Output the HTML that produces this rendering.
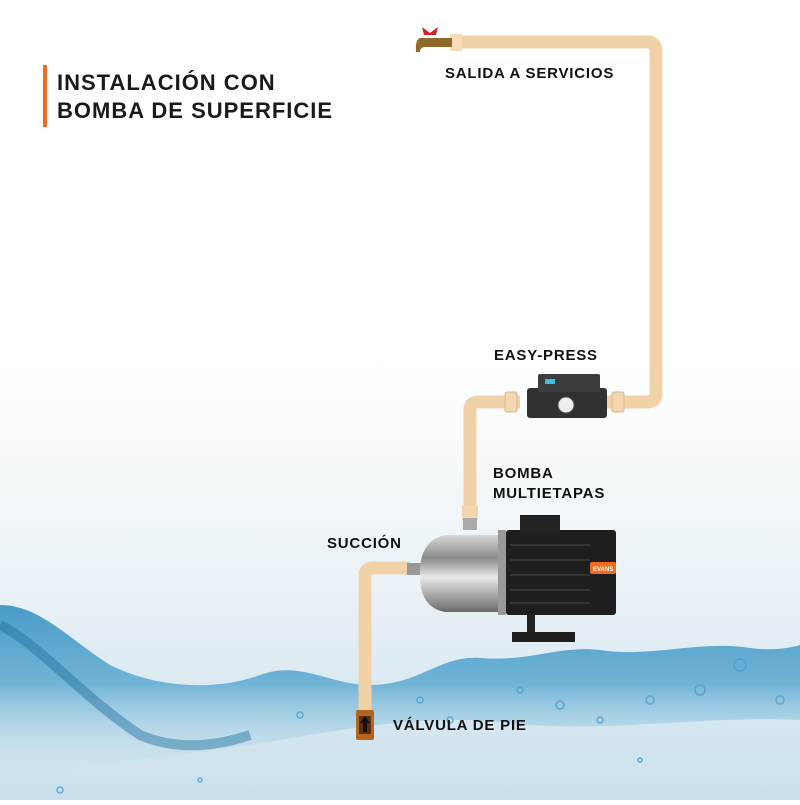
<!DOCTYPE html>
<html><head><meta charset="utf-8"><style>
html,body{margin:0;padding:0;}
body{width:800px;height:800px;overflow:hidden;font-family:"Liberation Sans",sans-serif;}
</style></head><body>
<svg width="800" height="800" viewBox="0 0 800 800" xmlns="http://www.w3.org/2000/svg">
<defs>
<linearGradient id="bg" x1="0" y1="0" x2="0" y2="1">
<stop offset="0" stop-color="#ffffff"/><stop offset="0.45" stop-color="#ffffff"/>
<stop offset="0.75" stop-color="#e8f1f6"/><stop offset="1" stop-color="#c9e0ec"/></linearGradient>
<linearGradient id="water" x1="0" y1="0" x2="0" y2="1">
<stop offset="0" stop-color="#2e8dc0"/><stop offset="0.45" stop-color="#5eaad2"/><stop offset="1" stop-color="#cfe5f0" stop-opacity="0"/></linearGradient>
<linearGradient id="steel" x1="0" y1="0" x2="0" y2="1">
<stop offset="0" stop-color="#d8d8d8"/><stop offset="0.3" stop-color="#8a8a8a"/><stop offset="0.55" stop-color="#e8e8e8"/><stop offset="1" stop-color="#6a6a6a"/></linearGradient>
</defs>
<rect width="800" height="800" fill="url(#bg)"/>
<!-- water -->
<path d="M0 605 C40 605 70 640 110 665 C160 690 220 690 260 675 C300 660 330 685 370 685 C420 685 440 655 480 658 C530 662 560 645 600 650 C650 658 700 640 750 648 C780 652 800 645 800 645 L800 720 C700 715 600 735 500 722 C400 712 300 740 200 752 C120 762 60 768 0 780 Z" fill="url(#water)" opacity="0.85"/>
<path d="M0 625 C40 645 80 695 140 735 C180 752 220 745 250 735" stroke="#1d6e9e" stroke-width="10" fill="none" opacity="0.45"/>
<g fill="none" stroke="#4a9fcb" stroke-width="1.5" opacity="0.8">
<circle cx="560" cy="705" r="4"/><circle cx="600" cy="720" r="3"/><circle cx="650" cy="700" r="4"/><circle cx="700" cy="690" r="5"/><circle cx="740" cy="665" r="6"/><circle cx="420" cy="700" r="3"/><circle cx="450" cy="720" r="3"/><circle cx="300" cy="715" r="3"/><circle cx="200" cy="780" r="2"/><circle cx="520" cy="690" r="3"/><circle cx="780" cy="700" r="4"/><circle cx="640" cy="760" r="2"/><circle cx="60" cy="790" r="3"/>
</g>
<!-- title -->
<rect x="43" y="65" width="4" height="62" fill="#ef6c21"/>
<text x="57" y="90" font-size="22" font-weight="bold" fill="#1a1a1a" letter-spacing="1">INSTALACIÓN CON</text>
<text x="57" y="118" font-size="22" font-weight="bold" fill="#1a1a1a" letter-spacing="1">BOMBA DE SUPERFICIE</text>
<!-- labels -->
<g font-size="15" font-weight="bold" fill="#111" letter-spacing="0.8">
<text x="445" y="78">SALIDA A SERVICIOS</text>
<text x="494" y="360">EASY-PRESS</text>
<text x="493" y="478">BOMBA</text>
<text x="493" y="498">MULTIETAPAS</text>
<text x="327" y="548">SUCCIÓN</text>
<text x="393" y="730">VÁLVULA DE PIE</text>
</g>
<!-- pipes -->
<g stroke="#f1d2a8" stroke-width="13" fill="none" stroke-linejoin="round">
<path d="M455 42 H648 Q656 42 656 52 V394 Q656 402 646 402 H605"/>
<path d="M520 402 H478 Q470 402 470 410 V520"/>
<path d="M410 568 H373 Q365 568 365 576 V712"/>
</g>
<rect x="450" y="34" width="12" height="17" fill="#f6dcb8"/>
<rect x="612" y="392" width="12" height="20" rx="2" fill="#f3d6ae" stroke="#d9b88c"/>
<rect x="505" y="392" width="12" height="20" rx="2" fill="#f3d6ae" stroke="#d9b88c"/>
<rect x="462" y="505" width="16" height="15" fill="#f3d6ae"/>
<!-- faucet -->
<path d="M420 38 H452 V47 H425 Q420 47 420 52 L416 52 Q415 40 420 38Z" fill="#8d6a2a"/>
<path d="M422 27 L430 33 L438 27 L436 35 L424 35Z" fill="#d0202a"/>
<!-- easy press -->
<rect x="527" y="388" width="80" height="30" rx="3" fill="#2f3133"/>
<rect x="538" y="374" width="62" height="18" rx="2" fill="#3a3c3e"/>
<rect x="545" y="379" width="10" height="5" fill="#3cc0d8"/>
<circle cx="566" cy="405" r="8" fill="#eee" stroke="#555"/>
<!-- pump -->
<rect x="463" y="518" width="14" height="12" fill="#aaa"/>
<rect x="407" y="563" width="15" height="12" fill="#999"/>
<path d="M420 568 Q422 540 445 535 H500 V612 H445 Q422 608 420 580Z" fill="url(#steel)"/>
<rect x="498" y="530" width="8" height="85" fill="#999"/>
<rect x="506" y="530" width="110" height="85" rx="3" fill="#1e1e1e"/>
<rect x="520" y="515" width="40" height="18" fill="#222"/>
<g stroke="#333" stroke-width="2"><line x1="510" y1="545" x2="590" y2="545"/><line x1="510" y1="560" x2="590" y2="560"/><line x1="510" y1="575" x2="590" y2="575"/><line x1="510" y1="590" x2="590" y2="590"/><line x1="510" y1="603" x2="590" y2="603"/></g>
<rect x="590" y="562" width="26" height="12" rx="2" fill="#ef6c21"/>
<text x="593" y="571" font-size="6" font-weight="bold" fill="#fff">EVANS</text>
<rect x="527" y="615" width="8" height="17" fill="#222"/>
<path d="M512 632 H575 V642 H512Z" fill="#1e1e1e"/>
<!-- foot valve -->
<rect x="356" y="710" width="18" height="30" rx="2" fill="#b5651d"/>
<rect x="359" y="716" width="12" height="18" fill="#5a3010"/>
<path d="M365 716 L370 723 H367 V732 H363 V723 H360Z" fill="#111"/>
</svg>
</body></html>
